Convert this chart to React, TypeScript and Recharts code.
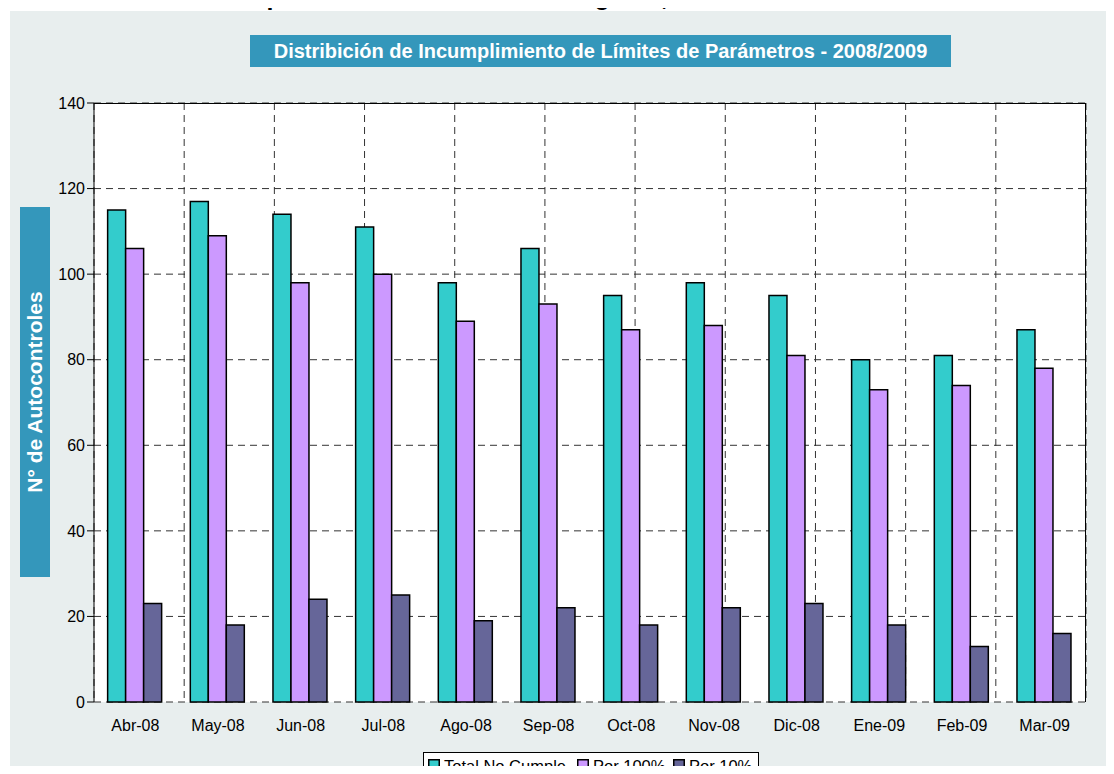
import { Bar, BarChart, CartesianGrid, XAxis, YAxis } from "recharts"

const months = ["Abr-08", "May-08", "Jun-08", "Jul-08", "Ago-08", "Sep-08", "Oct-08", "Nov-08", "Dic-08", "Ene-09", "Feb-09", "Mar-09"]
const totalNoCumple = [115, 117, 114, 111, 98, 106, 95, 98, 95, 80, 81, 87]
const por100 = [106, 109, 98, 100, 89, 93, 87, 88, 81, 73, 74, 78]
const por10 = [23, 18, 24, 25, 19, 22, 18, 22, 23, 18, 13, 16]
const yTicks = [0, 20, 40, 60, 80, 100, 120, 140]
const bounds = [0, 1, 2, 3, 4, 5, 6, 7, 8, 9, 10, 11, 12]

const SERIES = [
  { key: "total", name: "Total No Cumple", color: "#33CCCC" },
  { key: "p100", name: "Por 100%", color: "#CC99FF" },
  { key: "p10", name: "Por 10%", color: "#666699" },
]

const data = months.map((m, i) => ({
  month: m,
  total: totalNoCumple[i],
  p100: por100[i],
  p10: por10[i],
}))

const FONT = "'Liberation Sans', Arial, sans-serif"

export default function App() {
  return (
    <div style={{ position: "relative", width: 1114, height: 774, margin: -8, overflow: "hidden", fontFamily: FONT }}>
      <svg style={{ position: "absolute", left: 0, top: 0 }} width={1114} height={12}>
        <text x={4} y={4.5} fontSize={25} fontWeight="bold" fontFamily={FONT} fill="#000">
          Distribución de incumplimientos a la normativa vigente, MARZO 2009
        </text>
      </svg>
      <div style={{ position: "absolute", left: 10, top: 11, width: 1110, height: 770, background: "#E8EEEE" }} />
      <div
        style={{
          position: "absolute",
          left: 250,
          top: 35,
          width: 701,
          height: 32,
          background: "#3497BB",
          color: "#fff",
          fontWeight: "bold",
          fontSize: 20,
          display: "flex",
          alignItems: "center",
          justifyContent: "center",
        }}
      >
        Distribición de Incumplimiento de Límites de Parámetros - 2008/2009
      </div>
      <div
        style={{
          position: "absolute",
          left: 20,
          top: 207,
          width: 30,
          height: 370,
          background: "#3497BB",
          color: "#fff",
          fontWeight: "bold",
          fontSize: 21,
          display: "flex",
          alignItems: "center",
          justifyContent: "center",
        }}
      >
        <span style={{ transform: "rotate(-90deg)", whiteSpace: "nowrap" }}>N° de Autocontroles</span>
      </div>
      <div style={{ position: "absolute", left: 0, top: 0 }}>
        <BarChart
          width={1114}
          height={774}
          data={data}
          margin={{ top: 103, right: 28, left: 34, bottom: 42 }}
          barGap={0}
          barCategoryGap="16.5%"
        >
          <CartesianGrid
            xAxisId="b"
            fill="#fff"
            stroke="#333"
            strokeDasharray="7 5"
          />
          {/* solid frame on the top and right of the plot */}
          <CartesianGrid
            xAxisId="b"
            stroke="#000"
            horizontalCoordinatesGenerator={({ offset }: any) => [offset.top + 0.5]}
            verticalCoordinatesGenerator={({ offset }: any) => [offset.left + offset.width - 0.5]}
          />
          <XAxis
            xAxisId="b"
            type="number"
            domain={[0, 12]}
            ticks={bounds}
            tickFormatter={() => ""}
            height={0}
            tickSize={6}
            stroke="#000"
            axisLine={{ stroke: "#000" }}
          />
          <XAxis
            xAxisId="cat"
            dataKey="month"
            height={30}
            tickLine={false}
            axisLine={false}
            tickMargin={12}
            tick={{ fill: "#000", fontSize: 16, fontFamily: FONT }}
          />
          <YAxis
            width={60}
            domain={[0, 140]}
            ticks={yTicks}
            tickSize={7}
            stroke="#000"
            tick={{ fill: "#000", fontSize: 16, fontFamily: FONT }}
          />
          {SERIES.map((s) => (
            <Bar
              key={s.key}
              xAxisId="cat"
              dataKey={s.key}
              name={s.name}
              fill={s.color}
              stroke="#000"
              strokeWidth={1.5}
              isAnimationActive={false}
            />
          ))}
        </BarChart>
      </div>
      <svg style={{ position: "absolute", left: 423, top: 752 }} width={336} height={26}>
        <rect x={0.5} y={0.5} width={335} height={25} fill="#fff" stroke="#000" />
        {SERIES.map((s, i) => {
          const xs = [5, 154, 250]
          return (
            <g key={s.key}>
              <rect x={xs[i] + 0.75} y={7.75} width={10.5} height={10.5} fill={s.color} stroke="#000" strokeWidth={1.5} />
              <text x={xs[i] + 16} y={19.7} fontSize={16.5} fontFamily={FONT} fill="#000">
                {s.name}
              </text>
            </g>
          )
        })}
      </svg>
    </div>
  )
}
